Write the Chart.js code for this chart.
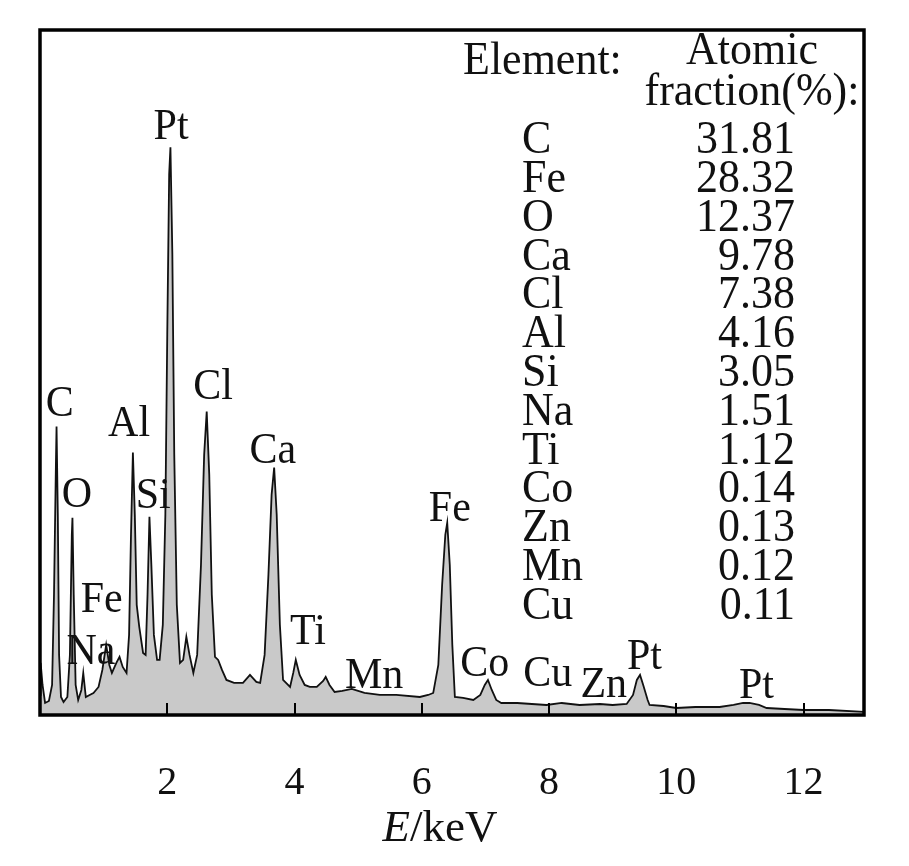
<!DOCTYPE html>
<html>
<head>
<meta charset="utf-8">
<script src="https://cdn.jsdelivr.net/npm/chart.js@4.4.1/dist/chart.umd.min.js"></script>
<style>
  html, body { margin: 0; padding: 0; background: #fff; }
  #wrap { width: 909px; height: 866px; }
</style>
</head>
<body>
<div id="wrap"><canvas id="c" width="909" height="866"></canvas></div>
<script>
// Spectrum: energy (keV) and intensity (arbitrary units)
const energy = [0.00,0.01,0.04,0.08,0.14,0.19,0.22,0.25,0.26,0.28,0.30,0.33,0.37,0.43,0.47,0.50,0.51,0.53,0.56,0.60,0.65,0.68,0.72,0.78,0.84,0.92,0.98,1.04,1.09,1.13,1.20,1.25,1.30,1.36,1.40,1.43,1.46,1.49,1.52,1.56,1.62,1.66,1.69,1.72,1.75,1.79,1.84,1.88,1.93,1.97,2.00,2.03,2.05,2.08,2.11,2.15,2.20,2.25,2.30,2.35,2.41,2.47,2.53,2.58,2.62,2.66,2.70,2.75,2.80,2.86,2.93,3.05,3.19,3.30,3.40,3.46,3.53,3.59,3.64,3.68,3.72,3.77,3.82,3.93,3.98,4.02,4.08,4.16,4.24,4.35,4.45,4.49,4.55,4.63,4.75,4.90,5.10,5.34,5.60,5.97,6.10,6.18,6.26,6.32,6.37,6.40,6.44,6.48,6.52,6.65,6.81,6.92,6.99,7.04,7.10,7.17,7.25,7.50,7.96,8.20,8.48,8.80,9.00,9.22,9.32,9.38,9.43,9.48,9.55,9.58,9.80,10.00,10.30,10.68,10.90,11.05,11.15,11.30,11.42,11.70,12.00,12.40,12.96];
const intensity = [20,52,30,12,14,30,120,250,288,200,60,18,13,18,60,180,197,120,30,15,25,42,18,20,22,28,45,70,50,42,52,58,48,42,80,180,262,200,110,88,62,60,120,198,150,80,55,55,90,200,380,540,567,460,260,110,52,55,78,60,42,60,150,260,303,240,120,58,55,45,35,32,32,40,33,32,60,140,220,247,200,90,35,28,42,55,40,30,28,28,34,38,30,23,24,26,22,20,20,18,20,22,50,130,180,192,150,70,18,17,15,20,30,35,25,15,12,12,10,12,10,11,10,11,20,35,40,30,15,10,9,7,8,8,10,12,12,10,7,6,5,5,3];

// Peak labels
const peakNames = ["C","O","Fe","Na","Al","Si","Pt","Cl","Ca","Ti","Mn","Fe","Co","Cu","Zn","Pt","Pt"];
const peakE     = [0.31,0.58,0.97,0.80,1.40,1.78,2.06,2.72,3.66,4.21,5.25,6.44,6.99,7.98,8.86,9.50,11.26];
const peakI     = [310,219,115,63,290,218,587,327,263,83,39,205,51,41,30,58,29];

// Composition table
const elements  = ["C","Fe","O","Ca","Cl","Al","Si","Na","Ti","Co","Zn","Mn","Cu"];
const fractions = ["31.81","28.32","12.37","9.78","7.38","4.16","3.05","1.51","1.12","0.14","0.13","0.12","0.11"];

// Axis ticks
const xTicks = [2,4,6,8,10,12];

const points = energy.map((e,i)=>({x:e, y:intensity[i]}));
const SERIF = '"Liberation Serif", "Times New Roman", serif';

function txt(ctx, s, x, y, sy) {
  ctx.save();
  ctx.translate(x, y);
  ctx.scale(1, sy);
  ctx.fillText(s, 0, 0);
  ctx.restore();
}

const overlay = {
  id: 'overlay',
  afterDatasetsDraw(chart) {
    const {ctx, chartArea:a, scales:{x, y}} = chart;
    ctx.save();
    // inner tick marks
    ctx.strokeStyle = '#000';
    ctx.lineWidth = 2;
    xTicks.forEach(v => {
      const px = Math.round(x.getPixelForValue(v));
      ctx.beginPath();
      ctx.moveTo(px, a.bottom);
      ctx.lineTo(px, a.bottom - 12);
      ctx.stroke();
    });
    // frame
    ctx.lineWidth = 3.5;
    ctx.strokeRect(a.left, a.top, a.right - a.left, a.bottom - a.top);

    // peak labels
    ctx.fillStyle = '#111';
    ctx.textAlign = 'center';
    ctx.textBaseline = 'middle';
    ctx.font = '42px ' + SERIF;
    peakNames.forEach((n,i) => {
      txt(ctx, n, x.getPixelForValue(peakE[i]), y.getPixelForValue(peakI[i]), 1.06);
    });

    // table
    ctx.font = '44px ' + SERIF;
    ctx.textAlign = 'left';
    txt(ctx, 'Element:', 463, 62, 1.06);
    ctx.textAlign = 'center';
    txt(ctx, 'Atomic', 752, 52, 1.06);
    txt(ctx, 'fraction(%):', 752, 93, 1.06);
    elements.forEach((el,i) => {
      const yy = 141 + i*38.8;
      ctx.textAlign = 'left';
      txt(ctx, el, 522, yy, 1.06);
      ctx.textAlign = 'right';
      txt(ctx, fractions[i], 795, yy, 1.06);
    });

    // axis title E/keV with italic E
    ctx.textBaseline = 'middle';
    ctx.textAlign = 'left';
    ctx.font = 'italic 45px ' + SERIF;
    const wE = ctx.measureText('E').width;
    ctx.font = '45px ' + SERIF;
    const wR = ctx.measureText('/keV').width;
    const x0 = 440 - (wE + wR)/2;
    ctx.font = 'italic 45px ' + SERIF;
    ctx.fillText('E', x0, 829);
    ctx.font = '45px ' + SERIF;
    ctx.fillText('/keV', x0 + wE, 829);
    ctx.restore();
  }
};

new Chart(document.getElementById('c'), {
  type: 'line',
  data: {
    datasets: [{
      data: points,
      borderColor: '#111',
      borderWidth: 1.8,
      backgroundColor: '#c9c9c9',
      fill: 'origin',
      pointRadius: 0,
      tension: 0,
    }]
  },
  options: {
    responsive: false,
    animation: false,
    events: [],
    layout: { padding: { left: 40, right: 45, top: 30, bottom: 0 } },
    plugins: { legend: { display: false }, tooltip: { enabled: false } },
    scales: {
      x: {
        type: 'linear',
        min: 0,
        max: 12.95,
        afterBuildTicks: s => { s.ticks = xTicks.map(v => ({value: v})); },
        afterFit: s => { s.height = 151; },
        grid: { display: false, drawTicks: false },
        border: { display: false },
        ticks: {
          padding: 44,
          maxRotation: 0,
          autoSkip: false,
          color: '#111',
          font: { family: SERIF, size: 40 }
        }
      },
      y: {
        display: false,
        min: 0,
        max: 684
      }
    }
  },
  plugins: [overlay]
});
</script>
</body>
</html>
